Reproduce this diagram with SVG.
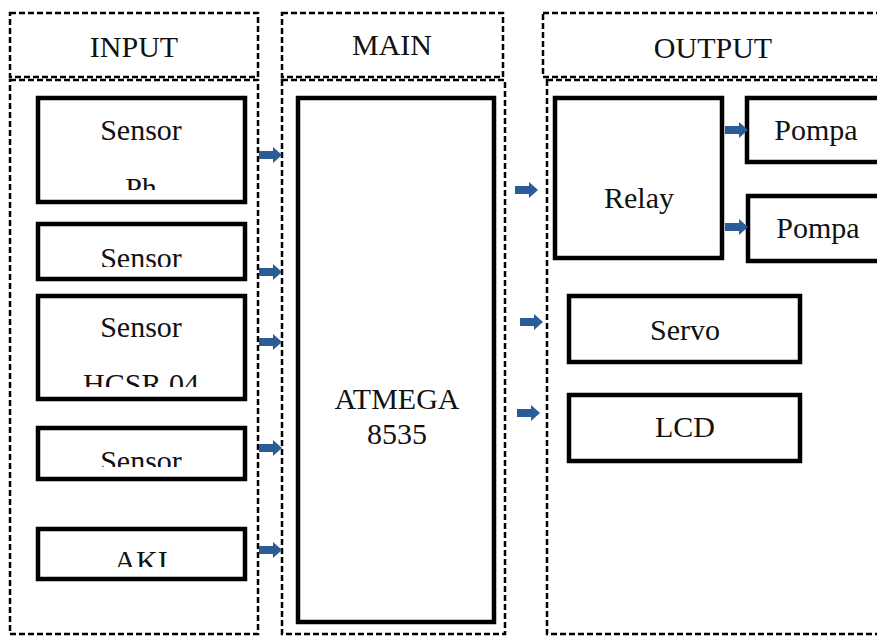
<svg xmlns="http://www.w3.org/2000/svg" xmlns:xlink="http://www.w3.org/1999/xlink" width="877" height="636" viewBox="0 0 877 636">
<style>
.dash{fill:none;stroke:#000;stroke-width:2.5;stroke-dasharray:6 3}
.box{fill:#fff;stroke:#000;stroke-width:4.5}
text{font-family:'Liberation Serif','DejaVu Serif','Times New Roman',serif;font-size:30px;fill:#111;text-anchor:middle}
.arr{fill:#2b5c97}
</style>
<defs>
<path id="ar" d="M0,-4 H14 V-8 L23,0 L14,8 V4 H0 Z"/>
<clipPath id="c1"><rect x="0" y="0" width="877" height="190"/></clipPath>
<clipPath id="c2"><rect x="0" y="0" width="877" height="267"/></clipPath>
<clipPath id="c3"><rect x="0" y="0" width="877" height="387"/></clipPath>
<clipPath id="c4"><rect x="0" y="0" width="877" height="467"/></clipPath>
<clipPath id="c5"><rect x="0" y="0" width="877" height="567"/></clipPath>
</defs>
<rect width="877" height="636" fill="#fff"/>

<g id="col-input">
<rect class="dash" x="10" y="13" width="248" height="64"/>
<rect class="dash" x="10" y="80" width="248" height="554"/>
<text font-family="Liberation Serif, serif" x="134" y="57">INPUT</text>
</g>
<g id="col-main">
<rect class="dash" x="282" y="13" width="221" height="64"/>
<rect class="dash" x="282" y="80" width="223" height="554"/>
<text x="392" y="55">MAIN</text>
</g>
<g id="col-output">
<rect class="dash" x="543" y="13" width="340" height="64"/>
<rect class="dash" x="547" y="80" width="340" height="554"/>
<text x="713" y="58">OUTPUT</text>
</g>

<g id="sensor-ph">
<rect class="box" x="38" y="98" width="207" height="104"/>
<g clip-path="url(#c1)"><text x="141" y="140">Sensor</text><text x="141" y="198">Ph</text></g>
</g>
<g id="sensor-2">
<rect class="box" x="38" y="224" width="207" height="55"/>
<g clip-path="url(#c2)"><text x="141" y="268">Sensor</text></g>
</g>
<g id="sensor-hcsr">
<rect class="box" x="38" y="296" width="207" height="103"/>
<g clip-path="url(#c3)"><text x="141" y="337">Sensor</text><text x="141" y="394">HCSR 04</text></g>
</g>
<g id="sensor-4">
<rect class="box" x="38" y="428" width="207" height="51"/>
<g clip-path="url(#c4)"><text x="141" y="471">Sensor</text></g>
</g>
<g id="aki">
<rect class="box" x="38" y="529" width="207" height="50"/>
<g clip-path="url(#c5)"><text x="141" y="571">AKI</text></g>
</g>

<g id="atmega">
<rect class="box" x="298" y="98" width="196" height="524"/>
<text x="397" y="409">ATMEGA</text>
<text x="397" y="444">8535</text>
</g>

<g id="relay">
<rect class="box" x="555" y="98" width="167" height="160"/>
<text x="639" y="208">Relay</text>
</g>
<g id="pompa-1">
<rect class="box" x="747" y="98" width="140" height="64"/>
<text x="816" y="140">Pompa</text>
</g>
<g id="pompa-2">
<rect class="box" x="748" y="196" width="140" height="65"/>
<text x="818" y="238">Pompa</text>
</g>
<g id="servo">
<rect class="box" x="569" y="296" width="231" height="66"/>
<text x="685" y="340">Servo</text>
</g>
<g id="lcd">
<rect class="box" x="569" y="395" width="231" height="66"/>
<text x="685" y="437">LCD</text>
</g>

<g id="connectors" class="arr">
<use xlink:href="#ar" x="259" y="155"/>
<use xlink:href="#ar" x="259" y="272"/>
<use xlink:href="#ar" x="259" y="342"/>
<use xlink:href="#ar" x="259" y="448"/>
<use xlink:href="#ar" x="259" y="550"/>
<use xlink:href="#ar" x="515" y="190"/>
<use xlink:href="#ar" x="520" y="322"/>
<use xlink:href="#ar" x="517" y="413"/>
<use xlink:href="#ar" x="725" y="130"/>
<use xlink:href="#ar" x="725" y="227"/>
</g>
</svg>
